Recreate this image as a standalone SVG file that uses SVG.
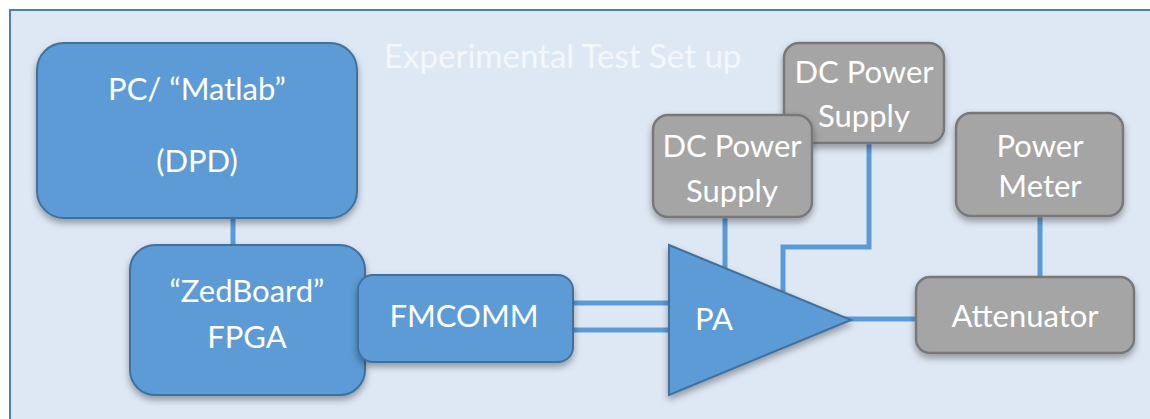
<svg xmlns="http://www.w3.org/2000/svg" width="1150" height="419" viewBox="0 0 1150 419">
  <defs>
    <filter id="sh" x="-20%" y="-20%" width="140%" height="150%">
      <feDropShadow dx="0" dy="4" stdDeviation="3.5" flood-color="#000" flood-opacity="0.35"/>
    </filter>
  </defs>
  <style>
    .blue { fill: #5b9bd5; stroke: #41719c; stroke-width: 2; filter: url(#sh); }
    .gray { fill: #a5a5a5; stroke: #787878; stroke-width: 2.5; filter: url(#sh); }
    .lbl { font-family: Lato, "Liberation Sans", sans-serif; font-size: 31px; fill: #ffffff; text-anchor: middle; }
    .wire { fill: none; stroke: #5b9bd5; stroke-width: 5; }
    .title { font-family: Lato, "Liberation Sans", sans-serif; font-size: 33px; fill: #f3f7fc; }
  </style>
  <rect x="0" y="0" width="1150" height="419" fill="#ffffff"/>
  <rect id="frame" x="10" y="10" width="1160" height="430" fill="#dee8f4" stroke="#4f7fae" stroke-width="2"/>
  <text class="title" x="384" y="68">Experimental Test Set up</text>

  <g id="connectors">
    <line class="wire" x1="233" y1="210" x2="233" y2="252"/>
    <line class="wire" x1="565" y1="303" x2="675" y2="303"/>
    <line class="wire" x1="565" y1="330" x2="675" y2="330"/>
    <line class="wire" x1="725" y1="210" x2="725" y2="275"/>
    <polyline class="wire" points="869,135 869,247 783,247 783,298"/>
    <line class="wire" x1="1040" y1="208" x2="1040" y2="285"/>
    <line class="wire" x1="840" y1="319" x2="924" y2="319"/>
  </g>

  <g id="pc">
    <rect class="blue" x="37" y="43" width="320" height="175" rx="27"/>
    <text class="lbl" x="197" y="100">PC/ “Matlab”</text>
    <text class="lbl" x="197" y="172">(DPD)</text>
  </g>

  <g id="zedboard">
    <rect class="blue" x="130" y="245" width="235" height="150" rx="25"/>
    <text class="lbl" x="247" y="302">“ZedBoard”</text>
    <text class="lbl" x="247" y="348">FPGA</text>
  </g>

  <g id="fmcomm">
    <rect class="blue" x="358" y="275" width="215" height="87" rx="15"/>
    <text class="lbl" x="464" y="327">FMCOMM</text>
  </g>

  <g id="pa">
    <polygon class="blue" points="669,245 851,320 669,395"/>
    <text class="lbl" x="714" y="330">PA</text>
  </g>

  <g id="dc2">
    <rect class="gray" x="784" y="43" width="160" height="100" rx="15"/>
    <text class="lbl" x="864" y="83">DC Power</text>
    <text class="lbl" x="864" y="127">Supply</text>
  </g>

  <g id="dc1">
    <rect class="gray" x="653" y="115" width="159" height="102" rx="15"/>
    <text class="lbl" x="732" y="157">DC Power</text>
    <text class="lbl" x="732" y="202">Supply</text>
  </g>

  <g id="powermeter">
    <rect class="gray" x="956" y="113" width="167" height="103" rx="15"/>
    <text class="lbl" x="1040" y="157">Power</text>
    <text class="lbl" x="1040" y="197">Meter</text>
  </g>

  <g id="attenuator">
    <rect class="gray" x="916" y="277" width="218" height="76" rx="14"/>
    <text class="lbl" x="1025" y="327">Attenuator</text>
  </g>
</svg>
